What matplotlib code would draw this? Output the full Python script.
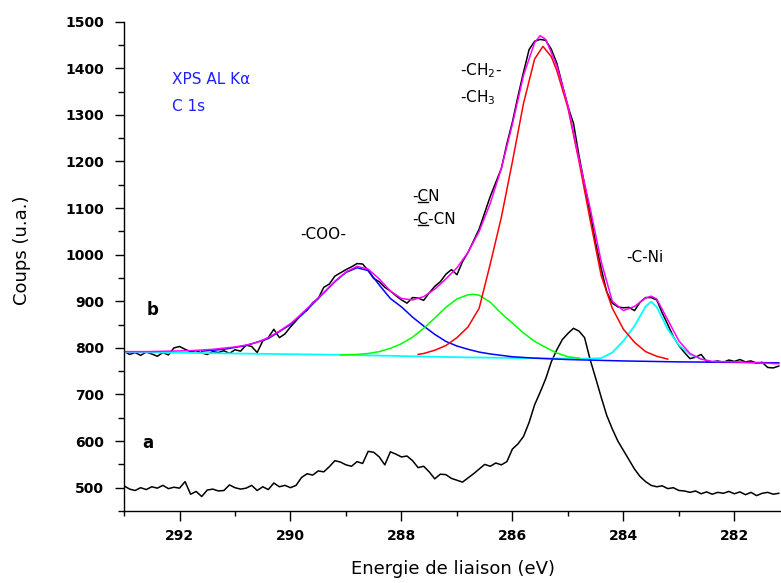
import matplotlib
matplotlib.use("Agg")
import matplotlib.pyplot as plt
from matplotlib.lines import Line2D
from matplotlib.transforms import IdentityTransform
from matplotlib.ticker import MultipleLocator

# ── Data ──────────────────────────────────────────────────────────────────────
# raw spectra, 293.0 -> 281.2 eV in 0.1 eV steps
energy_raw = [round(293.0 - 0.1 * i, 1) for i in range(119)]

spec_a = [504, 497, 494, 500, 496, 502, 499, 505, 498, 501,
          499, 513, 486, 492, 481, 495, 497, 493, 494, 506,
          500, 497, 499, 505, 494, 502, 496, 510, 502, 505,
          500, 505, 522, 530, 527, 536, 534, 545, 558, 555,
          549, 546, 556, 552, 578, 576, 566, 549, 577, 572,
          566, 568, 558, 543, 546, 534, 519, 529, 528, 520,
          516, 512, 521, 530, 540, 550, 546, 553, 549, 556,
          583, 594, 610, 640, 678, 705, 734, 770, 796, 818,
          831, 842, 836, 822, 775, 735, 694, 655, 626, 600,
          580, 560, 540, 524, 513, 505, 502, 504, 498, 500,
          494, 493, 490, 493, 487, 491, 486, 490, 488, 492,
          487, 491, 485, 490, 483, 488, 490, 486, 488]

spec_b = [793, 786, 790, 784, 791, 787, 782, 790, 785, 800,
          803, 797, 792, 794, 789, 786, 792, 790, 794, 788,
          796, 793, 806, 803, 790, 815, 822, 840, 822, 830,
          845, 858, 873, 881, 897, 906, 930, 937, 954, 961,
          968, 974, 981, 980, 966, 949, 942, 930, 922, 912,
          903, 896, 908, 907, 902, 918, 932, 942, 958, 968,
          957, 985, 1005, 1030, 1055, 1090, 1125, 1155, 1185, 1238,
          1285, 1340, 1392, 1440, 1458, 1462, 1460, 1441, 1411, 1364,
          1318, 1282, 1212, 1150, 1090, 1025, 970, 920, 896, 888,
          886, 887, 880, 898, 908, 908, 903, 875, 850, 824,
          805, 790, 777, 780, 786, 771, 770, 772, 769, 774,
          771, 775, 770, 772, 767, 769, 758, 757, 761]

# fit envelope (magenta)
env_x = [293.0, 292.6, 292.2, 291.8, 291.4, 291.0, 290.8, 290.6, 290.4, 290.2,
         290.0, 289.8, 289.6, 289.4, 289.2, 289.0, 288.8, 288.6, 288.4, 288.2,
         288.0, 287.8, 287.6, 287.4, 287.2, 287.0, 286.8, 286.6, 286.4, 286.2,
         286.0, 285.8, 285.6, 285.5, 285.4, 285.2, 285.0, 284.8, 284.6, 284.4,
         284.2, 284.0, 283.8, 283.6, 283.5, 283.4, 283.2, 283.0, 282.8, 282.6,
         282.4, 282.0, 281.6, 281.2]
env_y = [792, 792, 793, 794, 797, 802, 806, 812, 822, 836,
         852, 873, 896, 919, 943, 963, 975, 969, 948, 922,
         906, 903, 910, 926, 948, 972, 1005, 1050, 1110, 1185,
         1280, 1385, 1455, 1470, 1462, 1405, 1320, 1205, 1100, 985,
         900, 880, 889, 907, 911, 905, 860, 815, 788, 776,
         771, 770, 768, 766]

# -COO- component (blue)
coo_x = [291.6, 291.2, 290.8, 290.4, 290.0, 289.8, 289.6, 289.4, 289.2, 289.0,
         288.8, 288.6, 288.4, 288.2, 288.0, 287.8, 287.6, 287.4, 287.2, 287.0,
         286.8, 286.6, 286.4, 286.2, 286.0, 285.6, 285.0, 284.0, 283.0, 282.0, 281.2]
coo_y = [793, 797, 805, 820, 850, 870, 894, 918, 942, 962,
         972, 966, 935, 906, 888, 866, 847, 829, 814, 804,
         797, 791, 787, 784, 781, 778, 775, 772, 770, 769, 768]

# -CN / -C-CN component (green)
cn_x = [289.1, 288.8, 288.6, 288.4, 288.2, 288.0, 287.8, 287.6, 287.4, 287.2,
        287.0, 286.8, 286.7, 286.6, 286.4, 286.2, 286.0, 285.8, 285.6, 285.4,
        285.2, 285.0, 284.8]
cn_y = [785, 786, 788, 792, 799, 809, 823, 842, 864, 887,
        905, 914, 915, 913, 898, 874, 853, 832, 814, 801,
        789, 781, 778]

# -CH2- / -CH3 component (red)
ch_x = [287.7, 287.6, 287.4, 287.2, 287.0, 286.8, 286.6, 286.4, 286.2, 286.0,
        285.8, 285.6, 285.45, 285.3, 285.2, 285.0, 284.8, 284.6, 284.4, 284.2,
        284.0, 283.8, 283.6, 283.4, 283.2]
ch_y = [786, 788, 795, 805, 822, 845, 885, 980, 1080, 1200,
        1325, 1420, 1447, 1425, 1395, 1315, 1200, 1075, 955, 885,
        840, 812, 792, 782, 776]

# -C-Ni component (cyan)
cni_x = [293.0, 291.0, 289.0, 287.0, 285.0, 284.6, 284.4, 284.2, 284.0, 283.8,
         283.6, 283.5, 283.4, 283.2, 283.0, 282.8, 282.6]
cni_y = [791, 788, 785, 780, 777, 777, 778, 790, 815, 847,
         889, 899, 888, 840, 806, 786, 776]

# ── Figure ────────────────────────────────────────────────────────────────────
fig = plt.figure(figsize=(7.81, 5.83), dpi=100, facecolor="white")
ax = fig.add_axes([0.1588, 0.1235, 0.8412, 0.8393])

ax.plot(energy_raw, spec_a, color="black", lw=1.1)
ax.plot(energy_raw, spec_b, color="black", lw=1.1)
ax.plot(cni_x, cni_y, color="#00FFFF", lw=1.3)
ax.plot(coo_x, coo_y, color="#0000FF", lw=1.1)
ax.plot(cn_x, cn_y, color="#00FF00", lw=1.1)
ax.plot(ch_x, ch_y, color="#FF0000", lw=1.1)
ax.plot(env_x, env_y, color="#FF00FF", lw=1.1)

ax.set_xlim(293.0, 281.16)
ax.set_ylim(450, 1500)

ax.xaxis.set_major_locator(MultipleLocator(2))
ax.xaxis.set_minor_locator(MultipleLocator(1))
ax.yaxis.set_major_locator(MultipleLocator(100))
ax.yaxis.set_minor_locator(MultipleLocator(50))

ax.tick_params(axis="x", which="major", direction="out", length=7, width=1.0, pad=6)
ax.tick_params(axis="x", which="minor", direction="out", length=3.5, width=1.0)
ax.tick_params(axis="y", which="major", direction="out", length=6.5, width=1.0, pad=8)
ax.tick_params(axis="y", which="minor", direction="out", length=4, width=1.0)
for lbl in ax.get_xticklabels() + ax.get_yticklabels():
    lbl.set_fontweight("bold")
    lbl.set_fontsize(10)

ax.spines["top"].set_visible(False)
ax.spines["right"].set_visible(False)
ax.spines["left"].set_linewidth(1.0)
ax.spines["bottom"].set_linewidth(1.0)

ax.set_xlabel("Energie de liaison (eV)", fontsize=13)
ax.set_ylabel("Coups (u.a.)", fontsize=13)
ax.xaxis.set_label_coords(0.5, -0.10)
ax.yaxis.set_label_coords(-0.141, 0.533)

# ── Annotations ───────────────────────────────────────────────────────────────
ax.text(292.135, 1375, "XPS AL K\u03b1", color="#2020FF", fontsize=11, va="center")
ax.text(292.135, 1319, "C 1s", color="#2020FF", fontsize=11, va="center")
ax.text(289.41, 1044, "-COO-", fontsize=11, ha="center", va="center")
ax.text(286.95, 1385, "-CH$_2$-", fontsize=11, va="baseline")
ax.text(286.95, 1328, "-CH$_3$", fontsize=11, va="baseline")
ax.text(283.94, 995, "-C-Ni", fontsize=11, va="center")
ax.text(292.48, 881, "b", fontsize=12, fontweight="bold", ha="center", va="center")
ax.text(292.57, 596, "a", fontsize=12, fontweight="bold", ha="center", va="center")


def text_first_c_underlined(x, y, s):
    """Write s and underline its first 'C' (which follows a leading '-')."""
    t = ax.text(x, y, s, fontsize=11, va="center")
    fig.canvas.draw()
    r = fig.canvas.get_renderer()
    bb = t.get_window_extent(r)
    widths = []
    for part in ("-", "-C"):
        tmp = ax.text(x, y, part, fontsize=11, va="center")
        widths.append(tmp.get_window_extent(r).width)
        tmp.remove()
    yb = bb.y0 + 2.2
    fig.add_artist(Line2D([bb.x0 + widths[0] + 0.5, bb.x0 + widths[1] - 0.5], [yb, yb],
                          transform=IdentityTransform(), color="black", lw=1.0))


text_first_c_underlined(287.81, 1124, "-CN")
text_first_c_underlined(287.81, 1076, "-C-CN")

plt.savefig("out.png", dpi=100, facecolor="white")
plt.close(fig)
